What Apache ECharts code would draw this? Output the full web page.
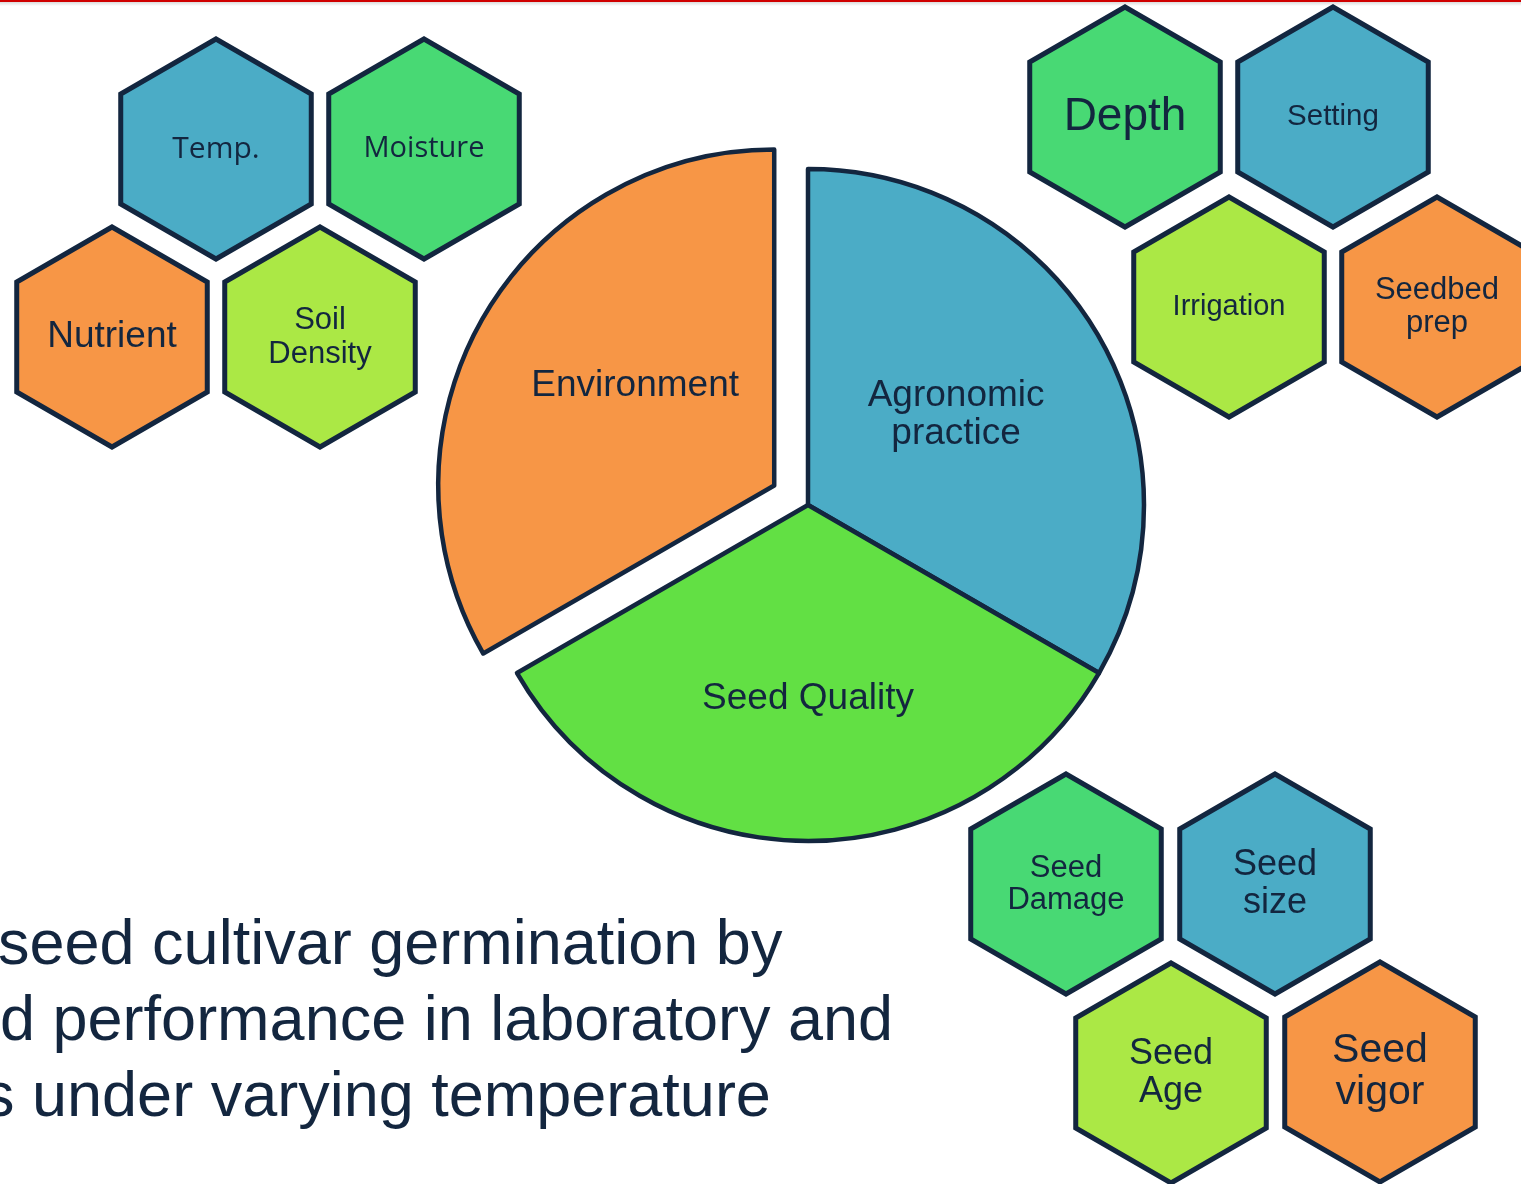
<!DOCTYPE html>
<html>
<head>
<meta charset="utf-8">
<script src="https://cdn.jsdelivr.net/npm/echarts@6/dist/echarts.min.js"></script>
<style>
  html, body { margin: 0; padding: 0; background: #fff; }
  #main { width: 1521px; height: 1184px; }
</style>
</head>
<body>
<div id="main"></div>
<script>
// pie: three equal parts
var pieNames = ['Agronomic\npractice', 'Seed Quality', 'Environment'];
var pieValues = [1, 1, 1];

// hexagons (x, y in page units) and their colour group
var hexLabels = ['Temp.', 'Moisture', 'Nutrient', 'Soil\nDensity',
                 'Depth', 'Setting', 'Irrigation', 'Seedbed\nprep',
                 'Seed\nDamage', 'Seed\nsize', 'Seed\nAge', 'Seed\nvigor'];
var hexX = [216, 424, 112, 320, 1125, 1333, 1229, 1437, 1066, 1275, 1171, 1380];
var hexY = [149, 149, 337, 337, 117, 117, 307, 307, 884, 884, 1073, 1072];
var hexGroup = ['blue', 'green', 'orange', 'lime', 'green', 'blue', 'lime', 'orange',
                'green', 'blue', 'lime', 'orange'];

var titleLines = ['seed cultivar germination by', 'd performance in laboratory and', 's under varying temperature'];

// styles
var ink = '#13263F';
var palette = { blue: '#4BACC6', green: '#48D974', lime: '#ABE845', orange: '#F79646' };
var hexFont = [
  [30, 'Open Sans'], [29, 'Open Sans'], [37, 'Liberation Sans'], [31, 'Liberation Sans'],
  [46, 'Liberation Sans'], [29.5, 'Liberation Sans'], [29, 'Liberation Sans'], [31, 'Liberation Sans'],
  [31, 'Liberation Sans'], [36, 'Liberation Sans'], [36, 'Liberation Sans'], [41, 'Liberation Sans']
];
var hexLineH = [34, 34, 40, 34, 48, 32, 32, 33, 32, 38, 38, 42];
var hexR = 110;

var chart = echarts.init(document.getElementById('main'));

var hexData = [];
for (var i = 0; i < hexLabels.length; i++) {
  hexData.push([hexX[i], hexY[i]]);
}

var titleGraphics = [];
var titleX = [-2, 0, -17];
for (var j = 0; j < titleLines.length; j++) {
  titleGraphics.push({
    type: 'text',
    x: titleX[j],
    y: 947 + j * 76,
    style: {
      text: titleLines[j],
      fill: ink,
      font: '63px "Liberation Sans", Arial, sans-serif',
      verticalAlign: 'middle'
    }
  });
}

var pieLabelRich = {
  t: { color: ink, fontSize: 37, lineHeight: 38, fontFamily: 'Liberation Sans' },
  gapA: { fontSize: 1, lineHeight: 10 },
  gapB: { fontSize: 1, lineHeight: 46 },
  gapC: { fontSize: 1, lineHeight: 28 },
  sp: { width: 18, fontSize: 1 }
};

var option = {
  animation: false,
  backgroundColor: '#fff',
  grid: { left: 0, right: 0, top: 0, bottom: 0 },
  xAxis: { type: 'value', min: 0, max: 1521, show: false },
  yAxis: { type: 'value', min: 0, max: 1184, inverse: true, show: false },
  graphic: [
    { type: 'rect', shape: { x: 0, y: 0, width: 1521, height: 6 },
      style: { fill: new echarts.graphic.LinearGradient(0, 0, 0, 1, [
        { offset: 0, color: '#c9c9c9' }, { offset: 1, color: '#ffffff' }]) } },
    { type: 'rect', shape: { x: 0, y: 0, width: 1521, height: 2 }, style: { fill: '#D00000' } }
  ].concat(titleGraphics),
  series: [
    {
      type: 'pie',
      center: [808, 505],
      radius: 336,
      startAngle: 90,
      selectedMode: 'single',
      selectedOffset: 39,
      emphasis: { disabled: true },
      itemStyle: { borderColor: ink, borderWidth: 4.5 },
      label: {
        show: true,
        position: 'inside',
        rich: pieLabelRich
      },
      labelLine: { show: false },
      data: [
        { name: pieNames[0], value: pieValues[0], itemStyle: { color: '#4BACC6' },
          label: { formatter: '{t|Agronomic}\n{t|practice}\n{gapA| }' } },
        { name: pieNames[1], value: pieValues[1], itemStyle: { color: '#62E044' },
          label: { formatter: '{gapB| }\n{t|Seed Quality}' } },
        { name: pieNames[2], value: pieValues[2], itemStyle: { color: '#F79646' }, selected: true,
          label: { formatter: '{sp|}{t|Environment}\n{gapC| }' } }
      ]
    },
    {
      type: 'custom',
      coordinateSystem: 'cartesian2d',
      silent: true,
      data: hexData,
      renderItem: function (params, api) {
        var i = params.dataIndex;
        var c = api.coord([api.value(0), api.value(1)]);
        var r = api.size([hexR, 0])[0];
        var pts = [];
        for (var k = 0; k < 6; k++) {
          var a = Math.PI / 180 * (60 * k - 90);
          pts.push([c[0] + r * Math.cos(a), c[1] + r * Math.sin(a)]);
        }
        return {
          type: 'group',
          children: [
            { type: 'polygon', shape: { points: pts },
              style: { fill: palette[hexGroup[i]], stroke: ink, lineWidth: 5 } },
            { type: 'text', x: c[0], y: c[1],
              style: { text: hexLabels[i], fill: ink, align: 'center', verticalAlign: 'middle',
                fontSize: hexFont[i][0], fontFamily: hexFont[i][1], lineHeight: hexLineH[i] } }
          ]
        };
      }
    }
  ]
};

chart.setOption(option);
</script>
</body>
</html>
